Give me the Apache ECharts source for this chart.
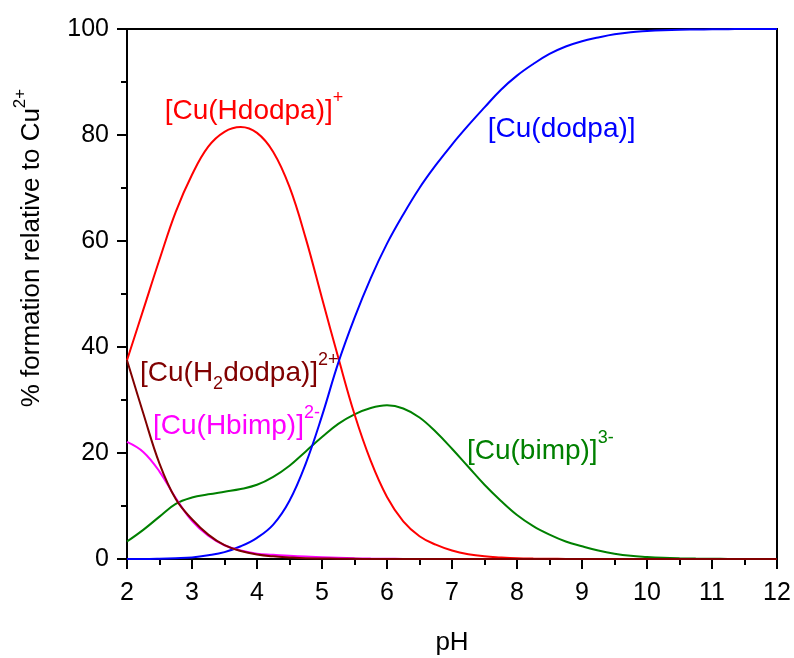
<!DOCTYPE html>
<html>
<head>
<meta charset="utf-8">
<script src="https://cdn.jsdelivr.net/npm/echarts@6/dist/echarts.min.js"></script>
<style>
html,body{margin:0;padding:0;background:#fff;}
#chart{width:794px;height:658px;}
</style>
</head>
<body>
<div id="chart"></div>
<script>
const pH = [2,2.25,2.5,2.75,3,3.25,3.5,3.75,4,4.25,4.5,4.75,5,5.25,5.5,5.75,6,6.25,6.5,6.75,7,7.25,7.5,7.75,8,8.25,8.5,8.75,9,9.25,9.5,9.75,10,10.25,10.5,10.75,11,11.25,11.5,11.75,12];
const cuHdodpa = [37.5,47,56.5,65.5,72.5,77.8,80.6,81.5,80.4,76.8,70.2,60.5,49.2,38,27.3,18.5,11.7,7.1,4.3,2.7,1.6,0.9,0.5,0.3,0.15,0.08,0.05,0.02,0,0,0,0,0,0,0,0,0,0,0,0,0];
const cuDodpa = [0,0,0.05,0.15,0.3,0.7,1.3,2.4,4,6.5,11,18,27,37,45.5,53,59.5,65,70,74.3,78.2,81.8,85.2,88.5,91.2,93.4,95.3,96.7,97.7,98.4,99,99.4,99.6,99.75,99.85,99.9,99.95,99.97,100,100,100];
const cuBimp = [3.3,5.5,8,10.4,11.6,12.2,12.7,13.2,14,15.5,17.6,20.3,23,25.5,27.3,28.5,29,28.4,26.7,24,20.8,17.4,14,11,8.3,6.2,4.6,3.3,2.4,1.6,1.0,0.6,0.4,0.25,0.15,0.08,0.05,0.02,0,0,0];
const cuH2dodpa = [37.5,27.5,18,11.3,7.5,4.6,2.6,1.5,0.85,0.5,0.3,0.15,0.1,0.05,0.03,0.01,0,0,0,0,0,0,0,0,0,0,0,0,0,0,0,0,0,0,0,0,0,0,0,0,0];
const cuHbimp = [22.1,20.2,16.5,11.5,7.2,4.4,2.6,1.6,1.0,0.8,0.6,0.45,0.35,0.25,0.15,0.08,0.05,0.02,0,0,0,0,0,0,0,0,0,0,0,0,0,0,0,0,0,0,0,0,0,0,0];
const xTicks = [2,3,4,5,6,7,8,9,10,11,12];
const yTicks = [0,20,40,60,80,100];

const FONT = 'Liberation Sans, Arial, sans-serif';
const zip = arr => pH.map((x,i)=>[x,arr[i]]);
const chart = echarts.init(document.getElementById('chart'), null, {renderer:'canvas'});

function line(name, data, color){
  return {name, type:'line', data:zip(data), smooth:0.4, showSymbol:false, symbol:'none',
    lineStyle:{color, width:2}, itemStyle:{color}, animation:false, z:2};
}

chart.setOption({
  animation:false,
  backgroundColor:'#fff',
  grid:{left:127, right:17, top:29, bottom:99, containLabel:false, outerBoundsMode:'none',
    show:true, borderColor:'#000', borderWidth:2},
  xAxis:{type:'value', min:2, max:12, interval:1,
    name:'pH', nameLocation:'middle', nameGap:71,
    nameTextStyle:{fontFamily:FONT, fontSize:26, color:'#000'},
    axisLine:{lineStyle:{color:'#000', width:2}},
    axisTick:{inside:false, length:10, lineStyle:{color:'#000', width:2}},
    minorTick:{show:true, splitNumber:2, length:6, lineStyle:{color:'#000', width:2}},
    axisLabel:{fontFamily:FONT, fontSize:25, color:'#000', margin:22,
      formatter:v=>xTicks.includes(v)?String(v):''},
    splitLine:{show:false}},
  yAxis:{type:'value', min:0, max:100, interval:20,
    name:'% formation relative to Cu{sup|2+}', nameLocation:'middle', nameGap:76,
    nameTextStyle:{fontFamily:FONT, fontSize:26, color:'#000', padding:[0,0,0,92],
      rich:{sup:{fontFamily:FONT, fontSize:17, color:'#000', padding:[0,0,22,0]}}},
    axisLine:{lineStyle:{color:'#000', width:2}},
    axisTick:{inside:false, length:10, lineStyle:{color:'#000', width:2}},
    minorTick:{show:true, splitNumber:2, length:6, lineStyle:{color:'#000', width:2}},
    axisLabel:{fontFamily:FONT, fontSize:25, color:'#000', margin:18,
      formatter:v=>yTicks.includes(v)?String(v):''},
    splitLine:{show:false}},
  series:[
    line('[Cu(bimp)]3-', cuBimp, '#008000'),
    line('[Cu(Hdodpa)]+', cuHdodpa, '#ff0000'),
    line('[Cu(dodpa)]', cuDodpa, '#0000ff'),
    line('[Cu(Hbimp)]2-', cuHbimp, '#ff00ff'),
    line('[Cu(H2dodpa)]2+', cuH2dodpa, '#800000')
  ]
});

const labels = [
  {at:[2.58,84.5], color:'#ff0000', text:'[Cu(Hdodpa)]{sup|+}'},
  {at:[7.55,81], color:'#0000ff', text:'[Cu(dodpa)]'},
  {at:[2.2,35], color:'#800000', text:'[Cu(H{sub|2}dodpa)]{sup|2+}'},
  {at:[2.4,25.1], color:'#ff00ff', text:'[Cu(Hbimp)]{sup|2-}'},
  {at:[7.23,20.4], color:'#008000', text:'[Cu(bimp)]{sup|3-}'}
];
chart.setOption({graphic: labels.map(l=>{
  const p = chart.convertToPixel({gridIndex:0}, l.at);
  return {type:'text', x:p[0], y:p[1], z:10, silent:true,
    style:{text:l.text, fill:l.color, font:'28px '+FONT, fontFamily:FONT, fontSize:28,
      verticalAlign:'middle', align:'left',
      rich:{
        sup:{fill:l.color, fontFamily:FONT, fontSize:18, padding:[0,0,26,0]},
        sub:{fill:l.color, fontFamily:FONT, fontSize:18, padding:[22,0,0,0]}
      }}};
})});
</script>
</body>
</html>
